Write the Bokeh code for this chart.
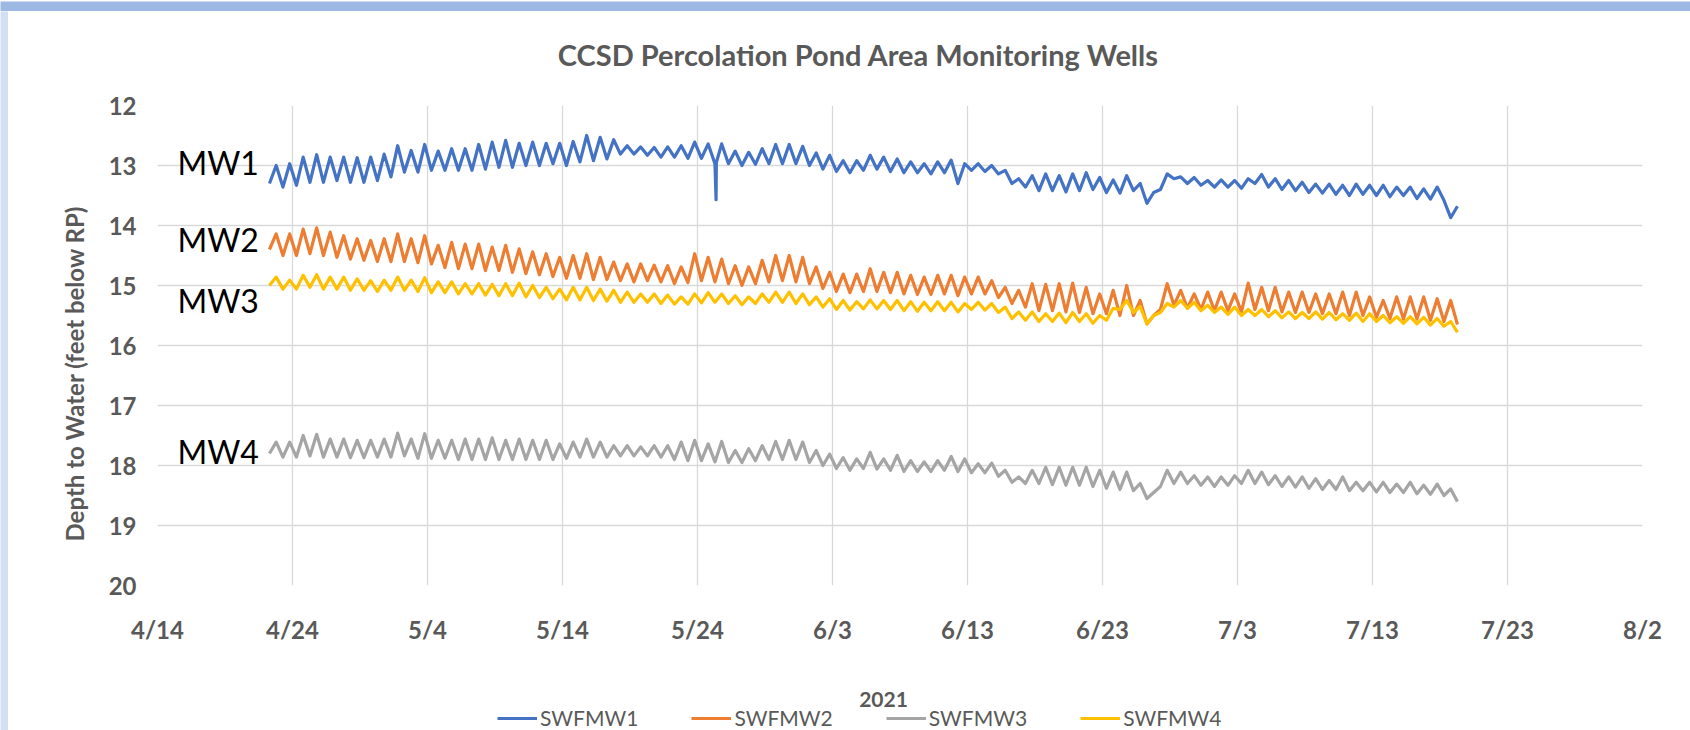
import numpy as np
import pandas as pd
from bokeh.plotting import figure
from bokeh.layouts import column, row
from bokeh.models import Range1d, FixedTicker, Legend, LegendItem, Title
from bokeh.core.properties import value
from bokeh.embed import file_html
from bokeh.resources import INLINE

# ---------------- data ----------------
chart_title = "CCSD Percolation Pond Area Monitoring Wells"
series_names = ["SWFMW1", "SWFMW2", "SWFMW3", "SWFMW4"]
well_labels = ["MW1", "MW2", "MW3", "MW4"]
x_tick_labels = ["4/14", "4/24", "5/4", "5/14", "5/24", "6/3", "6/13",
                 "6/23", "7/3", "7/13", "7/23", "8/2"]
x_axis_title = "2021"
y_axis_title = "Depth to Water (feet below RP)"
y_ticks = [12, 13, 14, 15, 16, 17, 18, 19, 20]
first_sample = "2021-04-22 07:00"   # 12-hourly readings: low, high, low, high ...

# daily deepest (troughs) 4/22 .. 7/20 and shallowest (peaks) 4/22 .. 7/19, feet below RP
mw1_low = [13.30, 13.36, 13.33, 13.28, 13.28, 13.25, 13.28, 13.28, 13.25, 13.19,
           13.11, 13.11, 13.08, 13.08, 13.08, 13.08, 13.06, 13.03, 13.03, 13.00,
           13.00, 12.97, 13.00, 12.94, 12.92, 12.89, 12.81, 12.81, 12.83, 12.86,
           12.86, 12.88, 12.88, 12.97, 12.97, 13.00, 12.98, 12.97, 12.97, 12.97,
           13.00, 13.06, 13.10, 13.12, 13.08, 13.06, 13.10, 13.12, 13.12, 13.14,
           13.12, 13.30, 13.08, 13.10, 13.14, 13.30, 13.36, 13.42, 13.42, 13.44,
           13.42, 13.40, 13.45, 13.46, 13.42, 13.63, 13.40, 13.22, 13.30, 13.33,
           13.36, 13.36, 13.38, 13.30, 13.36, 13.40, 13.42, 13.45, 13.46, 13.48,
           13.50, 13.48, 13.50, 13.52, 13.50, 13.55, 13.56, 13.58, 13.68]
mw1_high = [13.00, 12.97, 12.86, 12.82, 12.86, 12.86, 12.87, 12.86, 12.81, 12.67,
            12.75, 12.65, 12.76, 12.72, 12.72, 12.65, 12.61, 12.58, 12.63, 12.61,
            12.63, 12.63, 12.60, 12.50, 12.53, 12.57, 12.67, 12.69, 12.70, 12.69,
            12.67, 12.61, 12.64, 12.64, 12.76, 12.78, 12.72, 12.65, 12.65, 12.68,
            12.79, 12.83, 12.92, 12.92, 12.83, 12.86, 12.89, 12.94, 12.97, 12.94,
            12.91, 12.97, 12.97, 13.00, 13.08, 13.22, 13.17, 13.14, 13.17, 13.14,
            13.12, 13.20, 13.24, 13.17, 13.30, 13.45, 13.14, 13.19, 13.20, 13.25,
            13.24, 13.25, 13.22, 13.15, 13.22, 13.25, 13.28, 13.31, 13.31, 13.33,
            13.31, 13.33, 13.33, 13.36, 13.36, 13.39, 13.36, 13.87]
mw1_spike_time = ["2021-05-25 09:00", "2021-05-25 09:30"]
mw1_spike_value = [13.57, 12.95]

mw2_low = [14.40, 14.50, 14.50, 14.47, 14.50, 14.53, 14.56, 14.58, 14.60, 14.60,
           14.60, 14.62, 14.64, 14.70, 14.72, 14.72, 14.75, 14.75, 14.78, 14.80,
           14.82, 14.85, 14.88, 14.88, 14.90, 14.90, 14.92, 14.94, 14.92, 14.94,
           14.97, 14.95, 14.92, 14.94, 14.97, 15.00, 14.97, 14.94, 14.92, 14.94,
           14.97, 15.05, 15.10, 15.12, 15.10, 15.10, 15.12, 15.14, 15.15, 15.15,
           15.14, 15.17, 15.14, 15.14, 15.20, 15.30, 15.36, 15.42, 15.42, 15.44,
           15.45, 15.47, 15.47, 15.50, 15.50, 15.64, 15.40, 15.33, 15.38, 15.40,
           15.42, 15.42, 15.44, 15.40, 15.42, 15.44, 15.45, 15.45, 15.47, 15.47,
           15.50, 15.50, 15.53, 15.55, 15.56, 15.56, 15.58, 15.60, 15.65]
mw2_high = [14.14, 14.14, 14.06, 14.04, 14.11, 14.17, 14.22, 14.25, 14.22, 14.14,
            14.22, 14.17, 14.33, 14.28, 14.31, 14.31, 14.36, 14.33, 14.39, 14.44,
            14.47, 14.53, 14.50, 14.47, 14.53, 14.61, 14.64, 14.64, 14.66, 14.67,
            14.69, 14.47, 14.53, 14.56, 14.67, 14.69, 14.58, 14.50, 14.50, 14.53,
            14.69, 14.78, 14.81, 14.81, 14.72, 14.78, 14.78, 14.83, 14.86, 14.83,
            14.83, 14.86, 14.86, 14.92, 15.03, 15.08, 14.97, 14.98, 14.97, 14.96,
            15.03, 15.14, 15.08, 15.00, 15.25, 15.50, 14.97, 15.08, 15.14, 15.11,
            15.11, 15.14, 14.96, 15.03, 15.03, 15.11, 15.11, 15.14, 15.14, 15.11,
            15.11, 15.19, 15.25, 15.19, 15.19, 15.19, 15.22, 15.25]

mw3_low = [17.80, 17.86, 17.86, 17.84, 17.86, 17.86, 17.87, 17.87, 17.86, 17.86,
           17.84, 17.88, 17.88, 17.88, 17.90, 17.90, 17.90, 17.90, 17.90, 17.90,
           17.90, 17.90, 17.88, 17.86, 17.86, 17.86, 17.84, 17.84, 17.84, 17.86,
           17.90, 17.92, 17.92, 17.94, 17.95, 17.95, 17.92, 17.90, 17.90, 17.90,
           17.95, 18.00, 18.05, 18.08, 18.05, 18.06, 18.08, 18.10, 18.10, 18.10,
           18.08, 18.10, 18.12, 18.12, 18.18, 18.28, 18.30, 18.30, 18.32, 18.33,
           18.33, 18.35, 18.38, 18.40, 18.42, 18.55, 18.35, 18.30, 18.30, 18.33,
           18.35, 18.33, 18.30, 18.30, 18.32, 18.35, 18.36, 18.38, 18.40, 18.40,
           18.42, 18.42, 18.44, 18.45, 18.45, 18.47, 18.48, 18.50, 18.60]
mw3_high = [17.61, 17.61, 17.50, 17.48, 17.56, 17.56, 17.58, 17.58, 17.56, 17.46,
            17.56, 17.47, 17.58, 17.58, 17.56, 17.56, 17.54, 17.58, 17.56, 17.58,
            17.58, 17.64, 17.61, 17.56, 17.61, 17.67, 17.67, 17.69, 17.67, 17.67,
            17.61, 17.58, 17.64, 17.60, 17.75, 17.72, 17.67, 17.60, 17.58, 17.61,
            17.75, 17.81, 17.87, 17.89, 17.78, 17.89, 17.83, 17.92, 17.94, 17.92,
            17.85, 17.89, 17.97, 17.96, 18.08, 18.19, 18.08, 18.03, 18.03, 18.03,
            18.03, 18.08, 18.11, 18.11, 18.30, 18.45, 18.08, 18.11, 18.17, 18.19,
            18.19, 18.17, 18.08, 18.11, 18.17, 18.19, 18.19, 18.22, 18.25, 18.19,
            18.28, 18.28, 18.28, 18.31, 18.28, 18.33, 18.31, 18.39]

mw4_low = [15.00, 15.06, 15.06, 15.03, 15.06, 15.06, 15.08, 15.08, 15.10, 15.08,
           15.08, 15.10, 15.12, 15.12, 15.14, 15.14, 15.16, 15.17, 15.17, 15.19,
           15.20, 15.22, 15.24, 15.24, 15.25, 15.26, 15.28, 15.28, 15.28, 15.30,
           15.31, 15.31, 15.29, 15.28, 15.30, 15.32, 15.30, 15.28, 15.28, 15.30,
           15.32, 15.36, 15.40, 15.41, 15.39, 15.39, 15.40, 15.42, 15.43, 15.42,
           15.42, 15.44, 15.40, 15.41, 15.45, 15.55, 15.58, 15.60, 15.60, 15.62,
           15.60, 15.63, 15.58, 15.40, 15.45, 15.64, 15.45, 15.36, 15.38, 15.42,
           15.45, 15.48, 15.50, 15.50, 15.52, 15.54, 15.55, 15.55, 15.56, 15.57,
           15.58, 15.60, 15.60, 15.62, 15.63, 15.64, 15.66, 15.68, 15.78]
mw4_high = [14.86, 14.91, 14.83, 14.82, 14.86, 14.86, 14.89, 14.92, 14.91, 14.86,
            14.91, 14.87, 14.94, 14.94, 14.97, 14.97, 14.98, 14.97, 14.96, 15.00,
            15.03, 15.06, 15.03, 15.03, 15.06, 15.08, 15.11, 15.14, 15.14, 15.16,
            15.19, 15.14, 15.12, 15.14, 15.17, 15.19, 15.14, 15.11, 15.11, 15.14,
            15.19, 15.22, 15.25, 15.27, 15.24, 15.25, 15.25, 15.27, 15.28, 15.27,
            15.28, 15.30, 15.28, 15.30, 15.36, 15.44, 15.44, 15.47, 15.46, 15.45,
            15.47, 15.50, 15.38, 15.25, 15.35, 15.50, 15.30, 15.25, 15.28, 15.33,
            15.36, 15.36, 15.40, 15.40, 15.42, 15.44, 15.45, 15.44, 15.45, 15.47,
            15.46, 15.47, 15.50, 15.52, 15.52, 15.53, 15.55, 15.60]

# ---------------- build series ----------------
def interleave(lows, highs):
    out = []
    for lo, hi in zip(lows, highs):
        out += [lo, hi]
    out.append(lows[len(highs)])
    return out

def make_series(lows, highs, extra_t=None, extra_v=None):
    vals = interleave(lows, highs)
    t = pd.Timestamp(first_sample) + pd.to_timedelta(np.arange(len(vals)) * 12, unit="h")
    df = pd.DataFrame({"t": t, "v": vals})
    if extra_t:
        df = pd.concat([df, pd.DataFrame({"t": pd.to_datetime(extra_t), "v": extra_v})])
        df = df.sort_values("t")
    return df

series = [
    make_series(mw1_low, mw1_high, mw1_spike_time, mw1_spike_value),
    make_series(mw2_low, mw2_high),
    make_series(mw3_low, mw3_high),
    make_series(mw4_low, mw4_high),
]
colors = ["#4472C4", "#ED7D31", "#A5A5A5", "#FFC000"]

# ---------------- layout geometry (page pixels) ----------------
FONT = "Lato"
GREY = "#595959"
PAGE_W, PAGE_H = 1690, 730
TOP_BAND, LEFT_BAND = 11, 8
TITLE_BOTTOM = 80                      # page y where the title strip ends
MAIN_BOTTOM = 650                      # page y where the chart figure ends
COL_W = PAGE_W - LEFT_BAND
FL, FR, FT, FB = 157, 1642, 105, 585   # plot frame edges on the page


def blank(width, height, fill, xr=(0, 1), yr=(0, 1)):
    f = figure(width=width, height=height, output_backend="svg", toolbar_location=None,
               x_axis_location=None, y_axis_location=None, title=None,
               min_border=0, min_border_left=0, min_border_right=0,
               min_border_top=0, min_border_bottom=0,
               x_range=Range1d(*xr), y_range=Range1d(*yr))
    f.outline_line_color = None
    f.background_fill_color = fill
    f.border_fill_color = fill
    for g in f.grid:
        g.visible = False
    return f


x0 = pd.Timestamp("2021-04-14")
x_ticks = [x0 + pd.Timedelta(days=10 * i) for i in range(len(x_tick_labels))]
x_ticks_ms = [int(t.timestamp() * 1000) for t in x_ticks]

# ---- title strip (frames of the column are aligned with the chart frame: page x 157..1642)
title_fig = blank(COL_W, TITLE_BOTTOM - TOP_BAND, "white",
                  xr=(FL, FR), yr=(TITLE_BOTTOM, TOP_BAND))
title_fig.text(x=[858], y=[54], text=[chart_title], text_font=value(FONT),
               text_font_size="29px", text_font_style="bold", text_color=GREY,
               text_align="center", text_baseline="middle")

# ---- main chart
p = figure(width=COL_W, height=MAIN_BOTTOM - TITLE_BOTTOM, x_axis_type="datetime",
           x_range=Range1d(x_ticks[0], x_ticks[-1]), y_range=Range1d(20, 12),
           output_backend="svg", toolbar_location=None, title=None,
           min_border_left=FL - LEFT_BAND, min_border_right=PAGE_W - FR,
           min_border_top=FT - TITLE_BOTTOM, min_border_bottom=MAIN_BOTTOM - FB)
p.outline_line_color = None
p.background_fill_color = "white"
p.border_fill_color = "white"

p.xaxis.ticker = FixedTicker(ticks=x_ticks_ms)
p.xaxis.major_label_overrides = {ms: lab for ms, lab in zip(x_ticks_ms, x_tick_labels)}
p.yaxis.ticker = FixedTicker(ticks=y_ticks)
for ax in (p.xaxis[0], p.yaxis[0]):
    ax.axis_line_color = None
    ax.major_tick_line_color = None
    ax.minor_tick_line_color = None
    ax.major_tick_out = 0
    ax.major_tick_in = 0
    ax.minor_tick_out = 0
    ax.major_label_text_font = FONT
    ax.major_label_text_font_size = "24px"
    ax.major_label_text_font_style = "bold"
    ax.major_label_text_color = GREY
p.xaxis.major_label_standoff = 29
p.yaxis.major_label_standoff = 21

ytitle = Title(text=y_axis_title, align="left", offset=44,
               text_font=FONT, text_font_size="24px", text_font_style="bold",
               text_color=GREY, standoff=34)
p.add_layout(ytitle, "left")

p.xgrid.ticker = FixedTicker(ticks=x_ticks_ms)
p.ygrid.ticker = FixedTicker(ticks=y_ticks)
p.xgrid.grid_line_color = "#D9D9D9"
p.ygrid.grid_line_color = "#D9D9D9"
p.xgrid.grid_line_width = 1.3
p.ygrid.grid_line_width = 1.3

for df, col in zip(series, colors):
    p.line(df["t"], df["v"], line_color=col, line_width=3.2, line_join="round")

label_x = [pd.Timestamp("2021-04-15 11:30")] * 4
label_y = [12.95, 14.23, 15.25, 17.77]
p.text(x=label_x, y=label_y, text=well_labels, text_font=value(FONT),
       text_font_size="32px", text_baseline="middle", text_align="left", text_color="black")

# ---- strip under the chart: x-axis title and legend (page-pixel ranges)
leg_fig = blank(COL_W, PAGE_H - MAIN_BOTTOM, "white", xr=(FL, FR), yr=(PAGE_H, MAIN_BOTTOM))
leg_fig.text(x=[883], y=[699], text=[x_axis_title], text_font=value(FONT),
             text_font_size="21px", text_font_style="bold", text_color=GREY,
             text_align="center", text_baseline="middle")
items = []
for col, name in zip(colors, series_names):
    r = leg_fig.line(x=[np.nan], y=[np.nan], line_color=col, line_width=3.2)
    items.append(LegendItem(label=name, renderers=[r]))
legend = Legend(items=items, orientation="horizontal", location=(340, 0),
                label_text_font=FONT, label_text_font_size="21px", label_text_color=GREY,
                glyph_width=40, glyph_height=22, spacing=53, label_standoff=3,
                border_line_color=None, background_fill_alpha=0, padding=0, margin=0)
leg_fig.add_layout(legend)

# ---- slide background bands
top_fig = blank(PAGE_W, TOP_BAND, "#9DB8E2")
left_fig = blank(LEFT_BAND, PAGE_H - TOP_BAND, "#D3E0F3")

layout = column(top_fig, row(left_fig, column(title_fig, p, leg_fig)))

open("out.html", "w").write(file_html(layout, INLINE))
